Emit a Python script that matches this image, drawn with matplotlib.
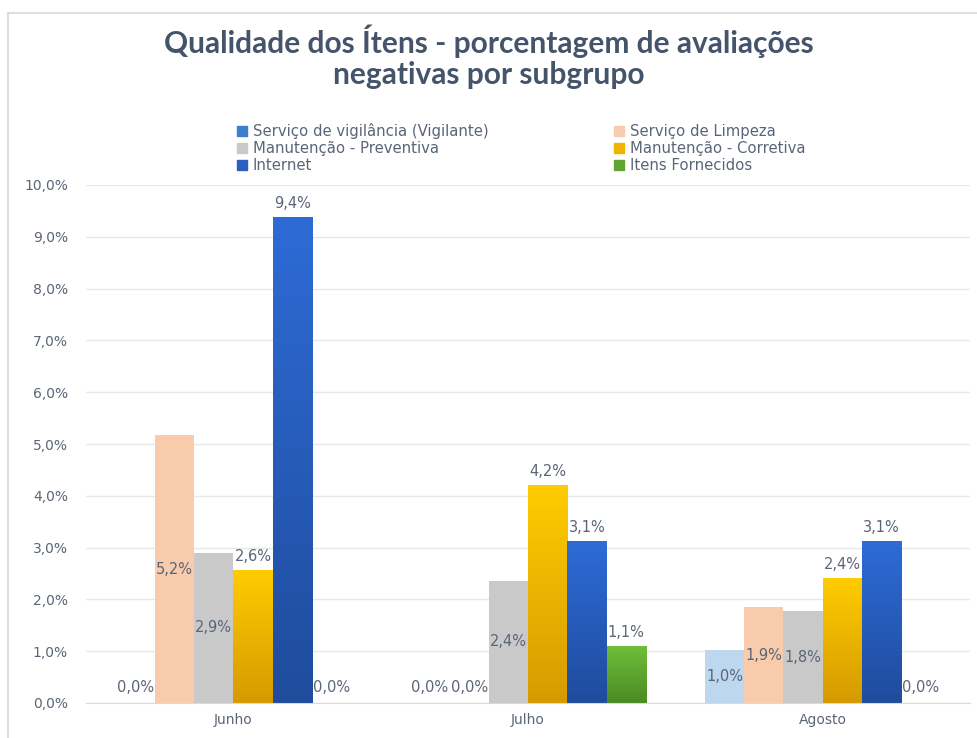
import numpy as np
import matplotlib
matplotlib.use('Agg')
import matplotlib.pyplot as plt
import matplotlib.patches as mpatches
from matplotlib.colors import LinearSegmentedColormap
from matplotlib.lines import Line2D


# Data (percent of negative evaluations)
meses = ['Junho', 'Julho', 'Agosto']
series = ['Serviço de vigilância (Vigilante)', 'Serviço de Limpeza',
          'Manutenção - Preventiva', 'Manutenção - Corretiva',
          'Internet', 'Itens Fornecidos']
vigilancia = [0.0, 0.0, 1.03]
limpeza = [5.17, 0.0, 1.85]
preventiva = [2.90, 2.36, 1.77]
corretiva = [2.57, 4.20, 2.41]
internet = [9.38, 3.12, 3.12]
itens = [0.0, 1.10, 0.0]
rotulos = [
    ['0,0%', '0,0%', '1,0%'],
    ['5,2%', '0,0%', '1,9%'],
    ['2,9%', '2,4%', '1,8%'],
    ['2,6%', '4,2%', '2,4%'],
    ['9,4%', '3,1%', '3,1%'],
    ['0,0%', '1,1%', '0,0%'],
]
yticks = np.arange(0, 11, 1)

valores = [vigilancia, limpeza, preventiva, corretiva, internet, itens]

# style per series: (flat colour or gradient top/bottom, legend colour, label inside?)
estilos = [
    (('#BDD7EE',), '#3C7FCC', True),
    (('#F8CBAD',), '#F8CBAD', True),
    (('#C9C9C9',), '#C9C9C9', True),
    (('#FFCC00', '#D69A00'), '#F0B400', False),
    (('#2E6BD6', '#1F4C9C'), '#2A5EC0', False),
    (('#6FBE3A', '#4C8A25'), '#5EA532', False),
]

txt_cor = '#5A6577'
W, H = 978, 738
fig = plt.figure(figsize=(W / 100, H / 100), dpi=100)
ax = fig.add_axes([86 / W, 1 - 703 / H, (970 - 86) / W, (703 - 185) / H])

x = np.arange(len(meses))
n = len(series)
bw = 0.8 / n

for i, (vals, (cores, leg_cor, dentro)) in enumerate(zip(valores, estilos)):
    pos = x - 0.4 + bw * (i + 0.5)
    if len(cores) == 1:
        bars = ax.bar(pos, vals, bw, color=cores[0], zorder=2)
    else:
        bars = ax.bar(pos, vals, bw, color='none', zorder=2)
        cmap = LinearSegmentedColormap.from_list('g', [cores[1], cores[0]])
        grad = np.linspace(0, 1, 256).reshape(-1, 1)
        for b in bars:
            if b.get_height() <= 0:
                continue
            im = ax.imshow(grad, extent=[b.get_x(), b.get_x() + b.get_width(), 0, b.get_height()],
                           origin='lower', aspect='auto', cmap=cmap, zorder=2)
            im.set_clip_path(b)
    for b, v, lab in zip(bars, vals, rotulos[i]):
        cx = b.get_x() + b.get_width() / 2
        if v <= 0:
            ax.text(cx, 0.16, lab, ha='center', va='bottom', fontsize=10.5, color=txt_cor, zorder=4)
        elif dentro:
            ax.text(cx, v / 2, lab, ha='center', va='center', fontsize=10.5, color=txt_cor, zorder=4)
        else:
            ax.text(cx, v + 0.12, lab, ha='center', va='bottom', fontsize=10.5, color=txt_cor, zorder=4)

ax.set_xlim(-0.5, len(meses) - 0.5)
ax.set_ylim(0, 10)
ax.set_yticks(yticks)
ax.set_yticklabels([f'{t:.1f}%'.replace('.', ',') for t in yticks])
ax.set_xticks(x)
ax.set_xticklabels(meses)
ax.grid(axis='y', color='#E8E8E8', linewidth=1, zorder=0)
ax.set_axisbelow(True)
for s in ['top', 'right', 'left']:
    ax.spines[s].set_visible(False)
ax.spines['bottom'].set_color('#D9D9D9')
ax.tick_params(axis='both', length=0, labelsize=10, labelcolor=txt_cor)
ax.tick_params(axis='y', pad=13)
ax.tick_params(axis='x', pad=7)

# legend (row-major order like the original)
handles = [mpatches.Patch(color=e[1]) for e in estilos]
ordem = [0, 2, 4, 1, 3, 5]
leg = fig.legend([handles[k] for k in ordem], [series[k] for k in ordem],
                 ncol=2, loc='upper left', bbox_to_anchor=(231 / W, 1 - 117 / H),
                 frameon=False, fontsize=10.7, handlelength=0.65, handleheight=0.65,
                 handletextpad=0.4, columnspacing=8.5, labelspacing=0.14,
                 borderaxespad=0)
for t in leg.get_texts():
    t.set_color(txt_cor)

fig.text(0.5, 1 - 57 / H, 'Qualidade dos Ítens - porcentagem de avaliações\nnegativas por subgrupo',
         ha='center', va='center', fontsize=21.5, fontweight='bold', color='#44546A',
         family='Lato', linespacing=1.15)

# frame lines of the screenshot
fig.add_artist(Line2D([8 / W, 8 / W], [0, 1 - 13 / H], color='#D9DEE4', linewidth=1.5))
fig.add_artist(Line2D([8 / W, 1], [1 - 13 / H, 1 - 13 / H], color='#D9DEE4', linewidth=1.5))

fig.savefig('out.png', dpi=100)
